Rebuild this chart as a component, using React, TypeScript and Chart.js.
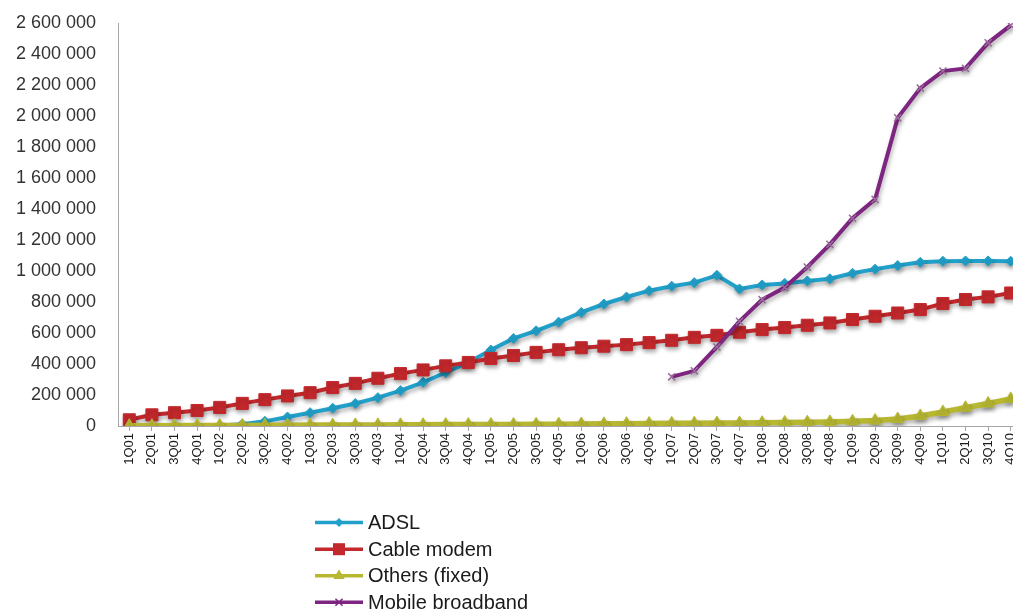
import React, { useEffect, useRef } from "react";
import { Chart, registerables } from "chart.js";

Chart.register(...registerables);

const quarters = [
  "1Q01", "2Q01", "3Q01", "4Q01", "1Q02", "2Q02", "3Q02", "4Q02",
  "1Q03", "2Q03", "3Q03", "4Q03", "1Q04", "2Q04", "3Q04", "4Q04",
  "1Q05", "2Q05", "3Q05", "4Q05", "1Q06", "2Q06", "3Q06", "4Q06",
  "1Q07", "2Q07", "3Q07", "4Q07", "1Q08", "2Q08", "3Q08", "4Q08",
  "1Q09", "2Q09", "3Q09", "4Q09", "1Q10", "2Q10", "3Q10", "4Q10",
];

const adsl = [
  0, 0, 0, 0, 3000, 12000, 30000, 58000,
  86000, 115000, 145000, 183000, 228000, 282000, 345000, 410000,
  490000, 565000, 614000, 670000, 733000, 787000, 832000, 873000,
  902000, 925000, 972000, 884000, 910000, 920000, 936000, 950000,
  985000, 1012000, 1035000, 1056000, 1063000, 1065000, 1065000, 1063000,
];

const cableModem = [
  40000, 72000, 86000, 100000, 120000, 146000, 170000, 194000,
  215000, 248000, 275000, 308000, 338000, 362000, 388000, 410000,
  436000, 455000, 475000, 492000, 505000, 515000, 525000, 538000,
  553000, 572000, 585000, 605000, 622000, 635000, 650000, 665000,
  687000, 708000, 729000, 751000, 790000, 816000, 833000, 858000,
];

const othersFixed = [
  2000, 2000, 3000, 3000, 4000, 4000, 5000, 5000,
  6000, 6000, 7000, 7000, 8000, 8000, 9000, 9000,
  10000, 10000, 11000, 12000, 13000, 14000, 15000, 16000,
  17000, 18000, 19000, 20000, 21000, 22000, 24000, 26000,
  30000, 35000, 45000, 65000, 90000, 118000, 145000, 175000,
];

const mobileBroadband = [
  null, null, null, null, null, null, null, null,
  null, null, null, null, null, null, null, null,
  null, null, null, null, null, null, null, null,
  317000, 356000, 510000, 675000, 815000, 893000, 1025000, 1172000,
  1340000, 1462000, 1988000, 2180000, 2290000, 2307000, 2472000, 2585000,
];

const seriesNames = ["ADSL", "Cable modem", "Others (fixed)", "Mobile broadband"];

const yTicks = { min: 0, max: 2600000, step: 200000 };

const fmt = (v: number) => String(v).replace(/\B(?=(\d{3})+(?!\d))/g, " ");

function drawMarker(ctx: CanvasRenderingContext2D, style: string, x: number, y: number, r: number, color: string) {
  ctx.save();
  ctx.fillStyle = color;
  ctx.strokeStyle = color;
  ctx.beginPath();
  if (style === "rectRot") {
    ctx.moveTo(x, y - r);
    ctx.lineTo(x + r, y);
    ctx.lineTo(x, y + r);
    ctx.lineTo(x - r, y);
    ctx.closePath();
    ctx.fill();
  } else if (style === "rect") {
    const s = r * Math.SQRT1_2;
    ctx.rect(x - s, y - s, 2 * s, 2 * s);
    ctx.fill();
  } else if (style === "triangle") {
    for (let k = 0; k < 3; k++) {
      const a = (k * 2 * Math.PI) / 3;
      const px = x + Math.sin(a) * r;
      const py = y - Math.cos(a) * r;
      if (k === 0) ctx.moveTo(px, py);
      else ctx.lineTo(px, py);
    }
    ctx.closePath();
    ctx.fill();
  } else if (style === "crossRot") {
    const d = r * Math.SQRT1_2;
    ctx.lineWidth = 1.5;
    ctx.moveTo(x - d, y - d);
    ctx.lineTo(x + d, y + d);
    ctx.moveTo(x - d, y + d);
    ctx.lineTo(x + d, y - d);
    ctx.stroke();
  }
  ctx.restore();
}

const legendPlugin = {
  id: "verticalLegend",
  afterDraw(chart: any) {
    const ctx: CanvasRenderingContext2D = chart.ctx;
    const rows = [522.5, 549.2, 575.8, 602.2];
    chart.data.datasets.forEach((ds: any, i: number) => {
      const y = rows[i];
      ctx.save();
      ctx.strokeStyle = ds.borderColor;
      ctx.lineWidth = 3.5;
      ctx.beginPath();
      ctx.moveTo(315, y);
      ctx.lineTo(363, y);
      ctx.stroke();
      drawMarker(ctx, ds.pointStyle, 339, y, ds.legendRadius, ds.borderColor);
      ctx.fillStyle = "#1a1a1a";
      ctx.font = '20px "Liberation Sans", Arial, sans-serif';
      ctx.textBaseline = "middle";
      ctx.textAlign = "left";
      ctx.fillText(ds.label, 368, y + 1);
      ctx.restore();
    });
  },
};

const shadowPlugin = {
  id: "lineShadow",
  beforeDatasetsDraw(chart: any) {
    const ctx = chart.ctx;
    ctx.save();
    ctx.shadowColor = "rgba(0,0,0,0.3)";
    ctx.shadowBlur = 4;
    ctx.shadowOffsetX = 1;
    ctx.shadowOffsetY = 3;
  },
  afterDatasetsDraw(chart: any) {
    chart.ctx.restore();
  },
};

export default function App() {
  const ref = useRef<HTMLCanvasElement | null>(null);

  useEffect(() => {
    if (!ref.current) return;
    Chart.defaults.font.family = '"Liberation Sans", Arial, sans-serif';
    const chart = new Chart(ref.current, {
      type: "line",
      data: {
        labels: quarters,
        datasets: [
          {
            label: seriesNames[0],
            data: adsl,
            borderColor: "#21a0c9",
            backgroundColor: "#21a0c9",
            borderWidth: 4,
            pointStyle: "rectRot",
            pointRadius: 5,
            pointBackgroundColor: "#21a0c9",
            pointBorderColor: "#21a0c9",
            pointBorderWidth: 1,
            tension: 0,
            order: 4,
            legendRadius: 4.5,
          } as any,
          {
            label: seriesNames[1],
            data: cableModem,
            borderColor: "#c3282c",
            backgroundColor: "#c3282c",
            borderWidth: 4,
            pointStyle: "rect",
            pointRadius: 8.5,
            pointBackgroundColor: "#c3282c",
            pointBorderColor: "#c3282c",
            pointBorderWidth: 1,
            tension: 0,
            order: 3,
            legendRadius: 8.5,
          } as any,
          {
            label: seriesNames[2],
            data: othersFixed,
            borderColor: "#b7b732",
            backgroundColor: "#b7b732",
            borderWidth: 5.5,
            pointStyle: "triangle",
            pointRadius: 7,
            pointBackgroundColor: "#b7b732",
            pointBorderColor: "#b7b732",
            pointBorderWidth: 1,
            tension: 0,
            order: 2,
            legendRadius: 6.5,
          } as any,
          {
            label: seriesNames[3],
            data: mobileBroadband,
            borderColor: "#7d2580",
            backgroundColor: "#7d2580",
            borderWidth: 4,
            pointStyle: "crossRot",
            pointRadius: 5,
            pointBorderColor: "#9a6a9c",
            pointBorderWidth: 1.5,
            tension: 0,
            order: 1,
            legendRadius: 5,
          } as any,
        ],
      },
      options: {
        animation: false,
        responsive: false,
        devicePixelRatio: 1,
        layout: { padding: { top: 23, left: 0, right: 13, bottom: 106 } },
        plugins: {
          legend: { display: false },
          tooltip: { enabled: false },
        },
        scales: {
          x: {
            offset: true,
            grid: {
              display: true,
              drawOnChartArea: false,
              drawTicks: true,
              tickLength: 5,
              color: "#a6a6a6",
            },
            border: { display: true, color: "#a6a6a6", width: 1 },
            ticks: {
              autoSkip: false,
              minRotation: 90,
              maxRotation: 90,
              padding: 2,
              color: "#1a1a1a",
              font: { size: 13, family: '"Liberation Sans", Arial, sans-serif' },
            },
            afterFit: (scale: any) => {
              scale.height = 80;
            },
          },
          y: {
            min: yTicks.min,
            max: yTicks.max,
            grid: { display: true, drawOnChartArea: false, drawTicks: false },
            border: { display: true, color: "#a6a6a6", width: 1 },
            ticks: {
              stepSize: yTicks.step,
              padding: 22,
              color: "#333333",
              font: { size: 18, family: '"Liberation Sans", Arial, sans-serif' },
              callback: (v: any) => fmt(Number(v)),
            },
            afterFit: (scale: any) => {
              scale.width = 118;
              scale.paddingTop = 10;
              scale.paddingBottom = 10;
            },
          },
        },
      },
      plugins: [shadowPlugin, legendPlugin],
    });
    return () => chart.destroy();
  }, []);

  return (
    <div
      style={{
        position: "fixed",
        left: 0,
        top: 0,
        width: 1013,
        height: 612,
        overflow: "hidden",
        background: "#ffffff",
      }}
    >
      <canvas ref={ref} width={1035} height={612} style={{ width: 1035, height: 612, display: "block" }} />
    </div>
  );
}
